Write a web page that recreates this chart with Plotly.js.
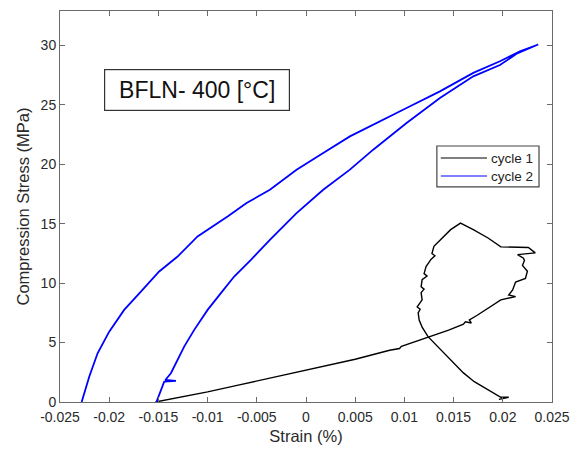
<!DOCTYPE html>
<html>
<head>
<meta charset="utf-8">
<script src="https://cdn.plot.ly/plotly-3.0.1.min.js"></script>
<style>html,body{margin:0;padding:0;background:#fff;}#chart{width:585px;height:451px;}</style>
</head>
<body>
<div id="chart"></div>
<script>
// cycle 1 (black) path, in drawing order
const cycle1Strain = [-0.0153, -0.0120, -0.0100, -0.0070, -0.0040, 0.0000, 0.0030, 0.0050, 0.0085, 0.0095, 0.0097, 0.0105, 0.0125, 0.0145, 0.0160, 0.0162, 0.0168, 0.0166, 0.0174, 0.0185, 0.0194, 0.0198, 0.0213, 0.0206, 0.0210, 0.0213, 0.0223, 0.0225, 0.0220, 0.0222, 0.0221, 0.0215, 0.0233, 0.0226, 0.0198, 0.0185, 0.0170, 0.0157, 0.0147, 0.0137, 0.0130, 0.0128, 0.0131, 0.0127, 0.0122, 0.0120, 0.0123, 0.0118, 0.0117, 0.0120, 0.0117, 0.0118, 0.0113, 0.0116, 0.0114, 0.0115, 0.0118, 0.0124, 0.0134, 0.0150, 0.0160, 0.0171, 0.0182, 0.0191, 0.0198, 0.0206, 0.0196];
const cycle1Stress = [0.00, 0.50, 0.85, 1.40, 1.95, 2.65, 3.20, 3.60, 4.35, 4.50, 4.68, 4.90, 5.45, 6.05, 6.55, 6.75, 6.65, 6.90, 7.30, 7.90, 8.45, 8.60, 8.87, 9.00, 9.43, 10.10, 10.40, 11.00, 11.50, 11.90, 12.10, 12.40, 12.55, 13.00, 13.05, 13.80, 14.50, 15.05, 14.50, 13.65, 13.10, 12.50, 12.30, 12.00, 11.40, 10.80, 10.60, 10.30, 9.70, 9.50, 9.20, 8.60, 8.00, 7.80, 7.50, 6.90, 6.30, 5.50, 4.66, 3.26, 2.45, 1.71, 1.20, 0.73, 0.40, 0.40, 0.22];

// cycle 2 (blue): inner branch up, then outer branch down
const cycle2Strain = [-0.0152, -0.01475, -0.01441, -0.01322, -0.01430, -0.01373, -0.01322, -0.01238, -0.01136, -0.0100, -0.00865, -0.0073, -0.0056, -0.00367, -0.00096, 0.00175, 0.00446, 0.00683, 0.01022, 0.01361, 0.0170, 0.01971, 0.0214, 0.0236,
                      0.02174, 0.01971, 0.0170, 0.01361, 0.01022, 0.00683, 0.00446, 0.00175, -0.00096, -0.00367, -0.00604, -0.00797, -0.0100, -0.01102, -0.01305, -0.01492, -0.01678, -0.01848, -0.0200, -0.02118, -0.02203, -0.0227, -0.0228];
const cycle2Stress = [0.00, 1.00, 1.71, 1.78, 1.85, 2.42, 3.26, 4.66, 6.07, 7.75, 9.16, 10.56, 11.96, 13.65, 15.90, 17.86, 19.55, 21.23, 23.48, 25.58, 27.40, 28.35, 29.30, 30.08,
                      29.51, 28.67, 27.69, 26.14, 24.74, 23.34, 22.35, 20.95, 19.55, 17.86, 16.74, 15.61, 14.49, 13.93, 12.24, 10.98, 9.29, 7.75, 5.92, 4.10, 2.13, 0.17, 0.00];

const xTicks = [-0.025, -0.02, -0.015, -0.01, -0.005, 0, 0.005, 0.01, 0.015, 0.02, 0.025];
const xTickText = ["-0.025", "-0.02", "-0.015", "-0.01", "-0.005", "0", "0.005", "0.01", "0.015", "0.02", "0.025"];
const yTicks = [0, 5, 10, 15, 20, 25, 30];
const seriesNames = ['cycle 1', 'cycle 2'];
const seriesColors = ['#000000', '#0000ff'];

const traces = [
  {x: cycle1Strain, y: cycle1Stress, type: 'scatter', mode: 'lines', name: seriesNames[0],
   line: {color: seriesColors[0], width: 1.4}},
  {x: cycle2Strain, y: cycle2Stress, type: 'scatter', mode: 'lines', name: seriesNames[1],
   line: {color: seriesColors[1], width: 1.8}}
];

const FONT = 'Liberation Sans, Arial, sans-serif';
const axisCommon = {
  showgrid: false, zeroline: false, showline: true, mirror: 'ticks',
  linecolor: '#6a6a6a', linewidth: 1, ticks: 'inside', ticklen: 5,
  tickcolor: '#6a6a6a', tickfont: {family: FONT, size: 14, color: '#2a2a2a'}
};

// manual legend (box, line samples, labels) placed in paper coords
const lg = {x0: 0.766, x1: 0.9736, y0: 0.550, y1: 0.6547, lx0: 0.774, lx1: 0.868, rows: [0.624, 0.578]};
const shapes = [
  {type: 'rect', xref: 'paper', yref: 'paper', x0: lg.x0, x1: lg.x1, y0: lg.y0, y1: lg.y1,
   line: {color: '#444444', width: 1.2}, fillcolor: '#ffffff', layer: 'above'}
];
const annotations = [{
  text: 'BFLN- 400 [°C]', xref: 'x', yref: 'y', x: -0.01109, y: 26.28,
  showarrow: false, xanchor: 'center', yanchor: 'middle',
  font: {family: FONT, size: 23, color: '#111111'},
  bordercolor: '#333333', borderwidth: 1.2, borderpad: 6, bgcolor: '#ffffff',
  width: 172, height: 28
}];
seriesNames.forEach((nm, i) => {
  shapes.push({type: 'line', xref: 'paper', yref: 'paper', x0: lg.lx0, x1: lg.lx1, y0: lg.rows[i], y1: lg.rows[i],
    line: {color: seriesColors[i], width: 1.2}, layer: 'above'});
  annotations.push({text: nm, xref: 'paper', yref: 'paper', x: lg.lx1 + 0.003, y: lg.rows[i],
    xanchor: 'left', yanchor: 'middle', showarrow: false,
    font: {family: FONT, size: 13.5, color: '#222222'}});
});

const layout = {
  width: 585, height: 451,
  margin: {l: 60, r: 33, t: 11, b: 49},
  paper_bgcolor: '#ffffff', plot_bgcolor: '#ffffff',
  font: {family: FONT, color: '#2a2a2a'},
  xaxis: Object.assign({}, axisCommon, {
    range: [-0.025, 0.025], tickvals: xTicks, ticktext: xTickText, ticklabelstandoff: 2,
    title: {text: 'Strain (%)', font: {size: 16.5, color: '#2a2a2a'}, standoff: 6}
  }),
  yaxis: Object.assign({}, axisCommon, {
    range: [0, 32.9], tickvals: yTicks,
    title: {text: 'Compression Stress (MPa)', font: {size: 16.5, color: '#2a2a2a'}, standoff: 6}
  }),
  showlegend: false,
  shapes: shapes,
  annotations: annotations
};

Plotly.newPlot('chart', traces, layout, {displayModeBar: false, staticPlot: true});
</script>
</body>
</html>
